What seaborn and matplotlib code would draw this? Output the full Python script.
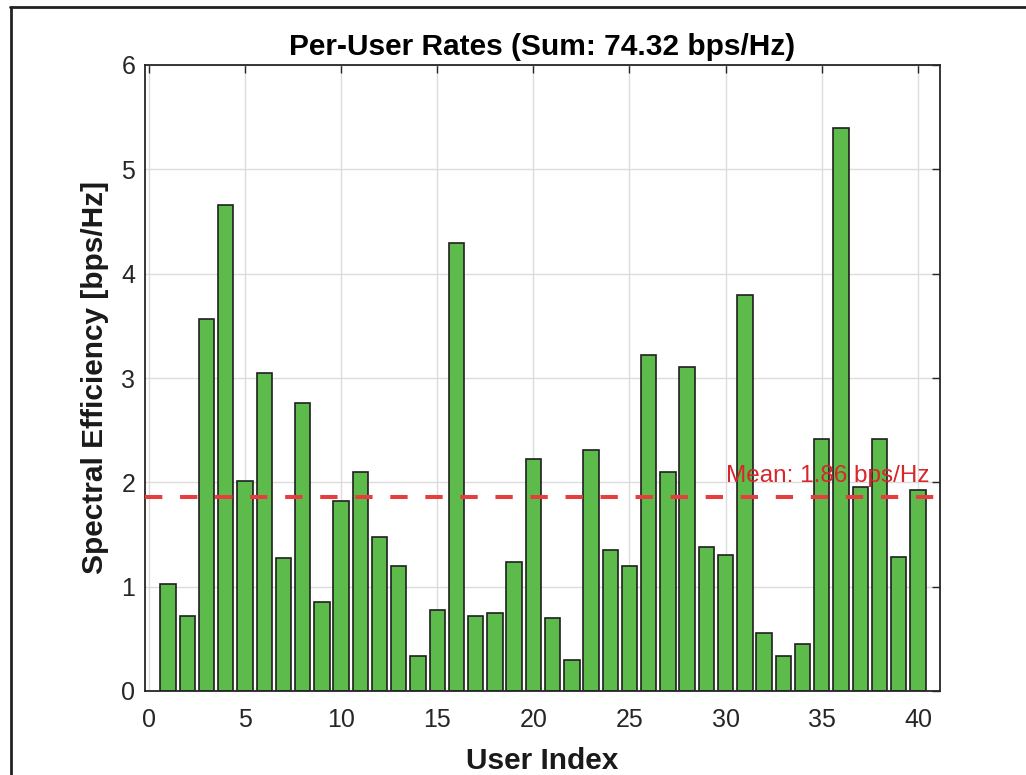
import matplotlib
matplotlib.use("Agg")
import matplotlib.pyplot as plt
import seaborn as sns
import numpy as np
import pandas as pd
from matplotlib.lines import Line2D

# ---- data ----
users = list(range(1, 41))
rates = [1.03, 0.72, 3.57, 4.66, 2.01, 3.05, 1.27, 2.76, 0.85, 1.82,
         2.10, 1.48, 1.20, 0.34, 0.78, 4.29, 0.72, 0.75, 1.24, 2.22,
         0.70, 0.30, 2.31, 1.35, 1.20, 3.22, 2.10, 3.11, 1.38, 1.30,
         3.80, 0.56, 0.34, 0.45, 2.42, 5.40, 1.96, 2.42, 1.28, 1.93]
x_ticks = [0, 5, 10, 15, 20, 25, 30, 35, 40]
y_ticks = [0, 1, 2, 3, 4, 5, 6]
title_text = "Per-User Rates (Sum: 74.32 bps/Hz)"
mean_label = "Mean: 1.86 bps/Hz"
x_label = "User Index"
y_label = "Spectral Efficiency [bps/Hz]"

sns.set_style("white")
plt.rcParams['font.family'] = ['Liberation Sans', 'DejaVu Sans']

W, H = 1026, 775
fig = plt.figure(figsize=(W / 100, H / 100), dpi=100)
fig.patch.set_facecolor('white')
ax = fig.add_axes([145 / W, 1 - 691 / H, (940 - 145) / W, (691 - 65) / H])

df = pd.DataFrame({'user': users, 'rate': rates})
sns.barplot(data=df, x='user', y='rate', native_scale=True, color='#5DBB4C',
            saturation=1, edgecolor='#1f1f1f', linewidth=1.2, width=0.8,
            errorbar=None, ax=ax, zorder=2)

mean_val = float(np.mean(rates))
ax.axhline(mean_val, color='#E63E3E', lw=2.9, ls=(0, (4.3, 4.4)), zorder=4)
ax.text(30, mean_val + 0.2, mean_label, color='#D9262B', fontsize=17.5,
        ha='left', va='center', zorder=5)

ax.set_xlim(-0.2, 41.15)
ax.set_ylim(0, 6)
ax.set_xticks(x_ticks)
ax.set_yticks(y_ticks)
ax.set_xticklabels([str(t) for t in x_ticks])
ax.set_yticklabels([str(t) for t in y_ticks])
ax.grid(True, color='#dcdcdc', lw=1)
ax.set_axisbelow(True)
ax.tick_params(axis='both', direction='in', length=6, width=1, top=True,
               right=True, labelsize=18, colors='#262626')
ax.tick_params(axis='x', pad=12)
ax.tick_params(axis='y', pad=7)
for s in ax.spines.values():
    s.set_visible(True)
    s.set_color('#262626')
    s.set_linewidth(1.3)

ax.set_xlabel(x_label, fontsize=21.5, fontweight='bold', labelpad=11, color='#1a1a1a')
ax.set_ylabel(y_label, fontsize=21.5, fontweight='bold', labelpad=9, color='#1a1a1a')
ax.set_title(title_text, fontsize=21.5, fontweight='bold', pad=7, color='#000000')

# outer screenshot frame (top and left edges)
fig.add_artist(Line2D([10 / W, 1], [1 - 7 / H, 1 - 7 / H], transform=fig.transFigure,
                      color='#222222', lw=2))
fig.add_artist(Line2D([11 / W, 11 / W], [0, 1 - 7 / H], transform=fig.transFigure,
                      color='#222222', lw=2))

fig.savefig("out.png", dpi=100, facecolor='white')
